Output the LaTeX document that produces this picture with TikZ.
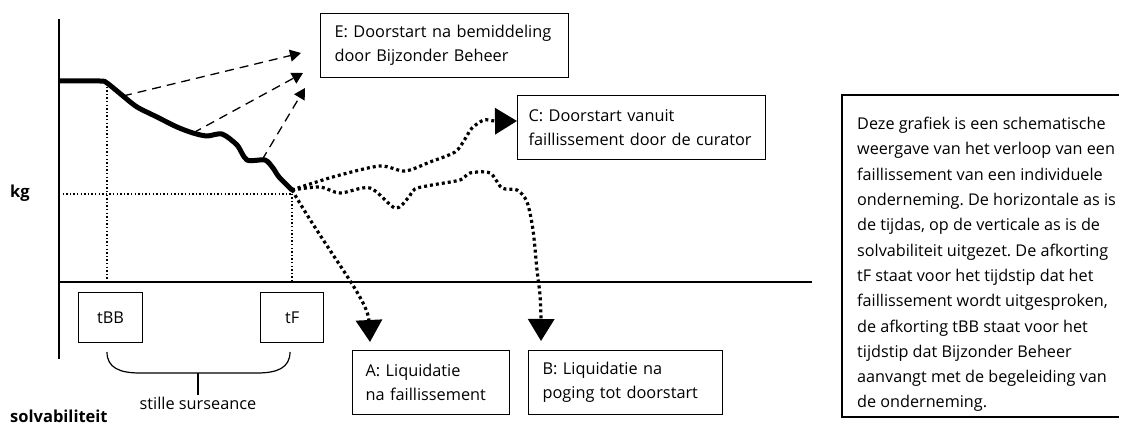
\documentclass[tikz,border=0pt]{standalone}
\usepackage{fontspec}
\setmainfont{Open Sans}
\usetikzlibrary{arrows.meta}
\frenchspacing
\begin{document}
\begin{tikzpicture}[x=1pt,y=-1pt,
  axis/.style={line width=1.3pt},
  thindot/.style={line width=1.2pt, dash pattern=on 1.4pt off 2.2pt},
  bigdot/.style={line width=3.2pt, dash pattern=on 3pt off 3pt},
  thick curve/.style={line width=5pt, line join=round},
  dashline/.style={line width=1.3pt, dash pattern=on 9pt off 6pt},
  smalltip/.style={-{Triangle[length=11pt,width=12pt]}},
  bigtip/.style={-{Triangle[length=22pt,width=26pt]}},
  lbox/.style={draw, line width=1.2pt, anchor=north west, align=left,
    font=\fontsize{16.3}{24}\selectfont, inner ysep=0pt},
  tbox/.style={draw, line width=1.2pt, anchor=north west, inner sep=0pt,
    font=\fontsize{16.3}{24}\selectfont},
  plain/.style={font=\fontsize{16.3}{24}\selectfont, inner sep=0pt},
  boldlbl/.style={font=\fontsize{16.5}{24}\selectfont\bfseries, inner sep=0pt}
]
\useasboundingbox (0,0) rectangle (1124,426);

% axes
\coordinate (O) at (59,282);
\coordinate (Ytop) at (59,19);
\coordinate (Ybot) at (59,359);
\coordinate (Xend) at (812,282);
\draw[axis] (Ytop) -- (Ybot);
\draw[axis] (O) -- (Xend);

% guide lines
\coordinate (BB) at (107,83);
\coordinate (BBax) at (107,282);
\coordinate (F) at (292,190);
\coordinate (Fax) at (292,282);
\coordinate (Kg) at (59,194);
\draw[thindot] (BB) -- (BBax);
\draw[thindot] (F) -- (Fax);
\draw[thindot] (Kg) -- (F |- Kg);

% main curve
\coordinate (S) at (59,81);
\coordinate (P1) at (123,96);
\coordinate (P2) at (193,133);
\coordinate (P3) at (262,160);
\draw[thick curve] plot[smooth, tension=0.45] coordinates {
 (59,81) (100,81) (107,83) (123,96) (137,107) (157,117) (177,127) (193,133)
 (207,136) (222,134) (237,145) (247,160) (265,160) (273,168) (279,177) (292,190)};

% dashed arrows
\coordinate (E1) at (301,53);
\coordinate (E2) at (303,73);
\coordinate (E3) at (305,88);
\draw[dashline, smalltip] (P1) -- (E1);
\draw[dashline, smalltip] (P2) -- (E2);
\draw[dashline, smalltip] (P3) -- (E3);

% boxes
\node[lbox, inner xsep=14pt, text width=220pt, minimum height=64pt] (E) at (320,13)
  {E: Doorstart na bemiddeling\\door Bijzonder Beheer};
\node[lbox, inner xsep=11pt, text width=226pt, minimum height=64pt] (C) at (517,95)
  {C: Doorstart vanuit\\faillissement door de curator};
\node[lbox, inner xsep=13pt, text width=131pt, minimum height=64pt] (A) at (352,350)
  {A: Liquidatie\\na faillissement};
\node[lbox, inner xsep=14pt, text width=166pt, minimum height=64pt] (B) at (528,350)
  {B: Liquidatie na\\poging tot doorstart};
\node[tbox, minimum width=64pt, minimum height=50pt] (tBB) at (78,292) {tBB};
\node[tbox, minimum width=63pt, minimum height=50pt] (tF) at (260,292) {tF};

% dotted scenario paths
\coordinate (Ctip) at (517,121);
\coordinate (Atip) at (370,342);
\coordinate (Btip) at (541,341);
\draw[bigdot, bigtip] plot[smooth, tension=0.5] coordinates {
 (292,190) (310,184) (340,175) (380,166) (405,171) (430,162) (455,152)
 (465,139) (472,128) (484,120) (495,121) (517,121)};
\draw[bigdot, bigtip] plot[smooth, tension=0.5] coordinates {
 (292,190) (320,187) (340,193) (370,188) (395,208) (408,198) (415,189)
 (432,185) (460,180) (470,173) (490,173) (502,188) (517,190) (527,202)
 (533,230) (537,270) (540,295) (541,318) (541,341)};
\draw[bigdot, bigtip] (F) .. controls (330,255) and (368,300) .. (Atip);

% brace
\coordinate (Bl) at (107,352);
\coordinate (Br) at (290,352);
\coordinate (Bm) at (198,373);
\coordinate (Bt) at (198,395);
\draw[line width=1.2pt] (Bl) .. controls (107,368) and (120,373) .. (140,373)
  -- (257,373) .. controls (277,373) and (290,368) .. (Br);
\draw[line width=1.2pt] (Bm) -- (Bt);
\node[plain, anchor=north] (ss) at (198,397) {stille surseance};

% axis labels
\node[boldlbl, anchor=west] (kg) at (10,193) {kg};
\node[boldlbl, anchor=west] (sol) at (10,416) {solvabiliteit};

% description box (its right side runs off the picture)
\coordinate (Dtr) at (1119,95);
\coordinate (Dtl) at (842,95);
\coordinate (Dbl) at (842,417);
\coordinate (Dbr) at (1119,417);
\draw[line width=1.2pt] (Dtr) -- (Dtl) -- (Dbl) -- (Dbr);
\node[anchor=north west, align=left, inner sep=0pt,
  font=\fontsize{16.2}{25.3}\selectfont] (D) at (857,117)
 {Deze grafiek is een schematische\\
  weergave van het verloop van een\\
  faillissement van een individuele\\
  onderneming. De horizontale as is\\
  de tijdas, op de verticale as is de\\
  solvabiliteit uitgezet. De afkorting\\
  tF staat voor het tijdstip dat het\\
  faillissement wordt uitgesproken,\\
  de afkorting tBB staat voor het\\
  tijdstip dat Bijzonder Beheer\\
  aanvangt met de begeleiding van\\
  de onderneming.};
\end{tikzpicture}
\end{document}
